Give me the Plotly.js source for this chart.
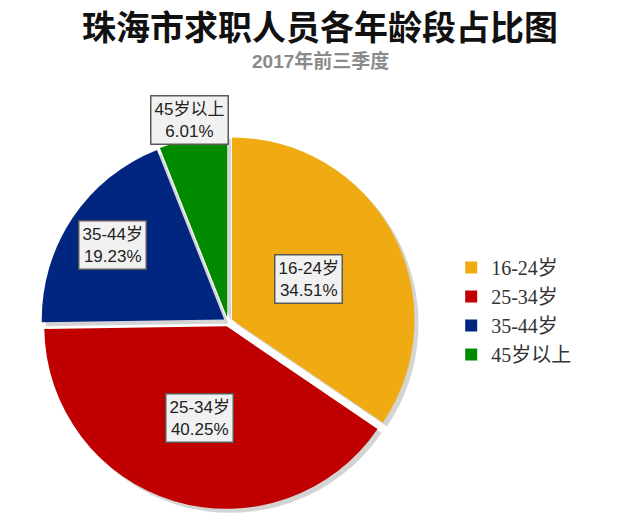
<!DOCTYPE html>
<html>
<head>
<meta charset="utf-8">
<script src="https://cdn.plot.ly/plotly-3.0.1.min.js"></script>
<style>
  html, body { margin: 0; padding: 0; background: #fff; }
  #chart { width: 640px; height: 520px; }
</style>
</head>
<body>
<div id="chart"></div>
<script>
// données : part de chaque tranche d'âge (%)
const categories = ['16-24岁', '25-34岁', '35-44岁', '45岁以上'];
const valeurs = [34.51, 40.25, 19.23, 6.01];
const couleurs = ['#F0AB12', '#C00000', '#002680', '#008A00'];

const titre = '珠海市求职人员各年龄段占比图';
const sousTitre = '2017年前三季度';

// géométrie du camembert (en pixels)
const W = 640, H = 520;
const cx = 228, cy = 322, demi = 187;
const pull = 0.025;
const rayon = demi / (1 + pull);
// distance des étiquettes au centre, en fraction du rayon
const distEtiq = [0.5, 0.55, 0.76, 1.13];

const domaine = {
    x: [(cx - demi) / W, (cx + demi) / W],
    y: [(H - cy - demi) / H, (H - cy + demi) / H]
};
const ombre = 4;

var data = [{
        // ombre portée
        type: 'pie',
        values: valeurs,
        labels: categories,
        sort: false,
        direction: 'clockwise',
        pull: pull,
        marker: { colors: categories.map(() => '#d4d4d4') },
        textinfo: 'none',
        hoverinfo: 'skip',
        showlegend: false,
        domain: {
            x: [domaine.x[0] + ombre / W, domaine.x[1] + ombre / W],
            y: [domaine.y[0] - ombre / H, domaine.y[1] - ombre / H]
        }
    },
    {
        type: 'pie',
        values: valeurs,
        labels: categories,
        sort: false,
        direction: 'clockwise',
        pull: pull,
        marker: { colors: couleurs, line: { width: 0 } },
        textinfo: 'none',
        hovertemplate: '%{label}: %{value}%<extra></extra>',
        domain: domaine
    }
];

// étiquettes encadrées, placées sur l'angle médian de chaque part
var annotations = [];
let cumul = 0;
const total = valeurs.reduce((a, b) => a + b, 0);
valeurs.forEach((v, i) => {
    let milieu = (cumul + v / 2) / total * 2 * Math.PI;
    cumul += v;
    let d = rayon * distEtiq[i];
    let px = cx + d * Math.sin(milieu);
    let py = cy - d * Math.cos(milieu);
    annotations.push({
        x: px / W, y: 1 - py / H,
        xref: 'paper', yref: 'paper',
        xanchor: 'center', yanchor: 'middle',
        text: categories[i] + '<br>' + v.toFixed(2) + '%',
        showarrow: false,
        font: { family: 'Liberation Sans, Arial, Noto Sans CJK SC', size: 17, color: '#222' },
        bgcolor: '#f1f1f1',
        bordercolor: '#5a5a5a',
        borderwidth: 1.5,
        borderpad: 3
    });
});

annotations.push({
    x: 0.5, y: 1 - 61 / H, xref: 'paper', yref: 'paper',
    xanchor: 'center', yanchor: 'middle',
    text: '<b>' + sousTitre + '</b>', showarrow: false,
    font: { family: 'Liberation Sans, Noto Sans CJK SC', size: 19, color: '#8a8a8a' }
});

var layout = {
    width: W, height: H,
    margin: { l: 0, r: 0, t: 0, b: 0 },
    paper_bgcolor: '#fff',
    title: {
        text: '<b>' + titre + '</b>',
        x: 0.5, xanchor: 'center',
        y: 1 - 28 / H, yanchor: 'middle',
        font: { family: 'Noto Sans CJK SC', size: 34, color: '#111' }
    },
    legend: {
        x: 0.705, xanchor: 'left',
        y: 1 - 311 / H, yanchor: 'middle',
        font: { family: 'Liberation Serif, DejaVu Serif, Noto Sans CJK SC', size: 20, color: '#333' },
        tracegroupgap: 0,
        itemwidth: 30
    },
    annotations: annotations,
    showlegend: true
};

Plotly.newPlot('chart', data, layout, { displayModeBar: false, staticPlot: true });
</script>
</body>
</html>
